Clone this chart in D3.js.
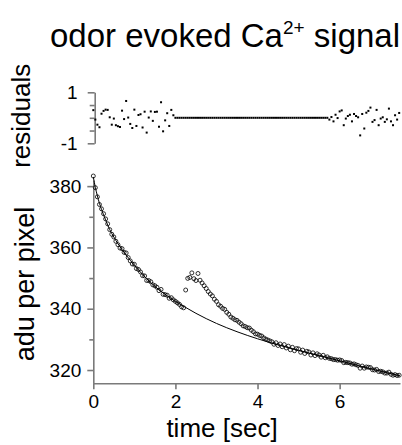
<!DOCTYPE html>
<html>
<head>
<meta charset="utf-8">
<script src="https://cdn.jsdelivr.net/npm/d3@7/dist/d3.min.js"></script>
<style>
  body { margin: 0; background: #fff; }
  text { font-family: "Liberation Sans", Arial, sans-serif; fill: #000; }
</style>
</head>
<body>
<svg id="chart" width="402" height="445"></svg>
<script>
// sampling interval of the imaging frames (sec)
const sampleInterval = 0.05;

// measured signal, adu per pixel, one value per frame
const signal = [
  383.3, 379.5, 376.5, 374.0, 372.6, 371.0, 369.3, 367.7, 365.8, 364.3,
  363.4, 362.0, 360.9, 359.8, 359.6, 358.4, 358.2, 356.7, 355.6, 354.6,
  354.5, 353.1, 352.8, 352.0, 350.8, 350.7, 349.2, 349.2, 348.8, 347.8,
  347.5, 347.0, 345.9, 346.3, 344.7, 344.6, 344.4, 343.4, 343.6, 342.9,
  342.4, 341.9, 341.4, 340.6, 340.3, 346.1, 349.9, 350.2, 351.7, 349.8,
  349.2, 351.5, 349.3, 348.4, 347.5, 346.6, 345.6, 344.8, 344.2, 343.1,
  342.4, 341.3, 340.8, 340.1, 339.8, 338.8, 338.2, 337.3, 336.9, 336.4,
  336.2, 335.6, 335.1, 334.4, 334.2, 333.8, 333.7, 333.0, 332.5, 331.8,
  331.7, 331.3, 331.1, 330.5, 330.1, 329.8, 329.5, 329.2, 328.4, 328.9,
  328.0, 328.5, 327.6, 328.3, 327.2, 327.8, 326.6, 327.4, 326.3, 327.0,
  326.9, 325.8, 326.5, 325.4, 326.1, 325.9, 324.9, 325.6, 324.7, 325.3,
  324.9, 324.2, 324.8, 324.0, 324.3, 323.8, 323.7, 323.4, 323.4, 323.2,
  323.3, 323.1, 322.4, 322.5, 322.4, 322.3, 321.9, 322.0, 321.7, 321.5,
  320.6, 321.3, 320.6, 321.0, 320.9, 320.8, 320.1, 320.0, 320.2, 319.5,
  319.6, 319.4, 319.0, 319.0, 319.3, 318.6, 318.3, 318.5, 318.2, 318.3
];

// residuals of the fit, zero where frames were excluded from the fit
const residuals = [
  0.30, -0.07, -0.27, -0.37, 0.16, 0.27, 0.32, 0.31, 0.02, -0.27,
  -0.03, -0.29, -0.33, -0.36, 0.28, -0.05, 0.66, 0.01, -0.24, -0.40,
  0.32, -0.32, 0.11, 0.14, -0.38, 0.24, -0.58, 0.01, 0.25, -0.12,
  0.23, 0.24, -0.35, 0.61, -0.53, -0.10, 0.18, -0.32, 0.31, 0.10,
  0, 0, 0, 0, 0, 0, 0, 0, 0, 0,
  0, 0, 0, 0, 0, 0, 0, 0, 0, 0,
  0, 0, 0, 0, 0, 0, 0, 0, 0, 0,
  0, 0, 0, 0, 0, 0, 0, 0, 0, 0,
  0, 0, 0, 0, 0, 0, 0, 0, 0, 0,
  0, 0, 0, 0, 0, 0, 0, 0, 0, 0,
  0, 0, 0, 0, 0, 0, 0, 0, 0, 0,
  0, 0, 0, 0, 0, -0.07, 0.03, -0.14, 0.12, -0.01,
  0.25, 0.29, -0.29, -0.03, 0.07, 0.12, -0.14, 0.15, 0.07, 0.02,
  -0.69, 0.15, -0.42, 0.20, 0.27, 0.40, -0.16, -0.09, 0.31, -0.29,
  -0.03, 0.02, -0.16, -0.06, 0.36, -0.14, -0.29, 0.10, -0.07, 0.19
];

// bleaching fit curve
const fitTimes  = [0, 0.05, 0.1, 0.15, 0.2, 0.3, 0.4, 0.5, 0.6, 0.7, 0.8, 1.0, 1.2, 1.4, 1.6,
                   1.8, 2.0, 2.2, 2.5, 3.0, 3.5, 4.0, 4.5, 5.0, 5.5, 6.0, 6.5, 7.0, 7.47];
const fitValues = [383.0, 379.6, 376.8, 374.4, 372.4, 369.0, 365.8, 363.4, 361.2, 359.3, 357.5, 354.2, 351.2, 348.5, 346.2,
                   344.2, 342.4, 340.8, 338.5, 335.2, 332.5, 330.2, 328.2, 326.4, 324.7, 323.0, 321.3, 319.6, 318.1];

const xTicks = [0, 2, 4, 6];
const yTicks = [320, 340, 360, 380];
const yMinorTicks = [330, 350, 370];
const resTicks = [-1, 1];
const resMinorTicks = [-0.5, 0, 0.5];

const axisColor = '#7a7a7a';

const svg = d3.select('#chart');

let x = d3.scaleLinear().domain([0, 7.47]).range([93.3, 400]);
let y = d3.scaleLinear().domain([315.7, 382]).range([383.2, 180]);
let yRes = d3.scaleLinear().domain([-1, 1]).range([143.3, 92.3]);

// plain hyphen for negatives, like the original figure
let intFormat = d => String(Math.round(d));

function styleAxis(g, width) {
  g.selectAll('path, line').attr('stroke', axisColor).attr('stroke-width', width);
  g.selectAll('text')
    .attr('font-size', 19)
    .attr('font-family', '"Liberation Sans", Arial, sans-serif')
    .attr('fill', '#000');
}

// title
let title = svg.append('text')
  .attr('x', 225)
  .attr('y', 47)
  .attr('text-anchor', 'middle')
  .attr('font-size', 33);
title.append('tspan').text('odor evoked Ca');
title.append('tspan').attr('font-size', 19).attr('dy', -13).text('2+');
title.append('tspan').attr('dy', 13).text(' signal');

// residuals panel
let resAxis = svg.append('g')
  .attr('transform', 'translate(94.7,0)')
  .call(d3.axisLeft(yRes).tickValues(resTicks).tickSize(7).tickSizeOuter(0).tickPadding(10)
    .tickFormat(intFormat));
styleAxis(resAxis, 1.6);

let resMinor = svg.append('g')
  .attr('transform', 'translate(94.7,0)')
  .call(d3.axisLeft(yRes).tickValues(resMinorTicks).tickSize(5).tickFormat(''));
resMinor.select('.domain').remove();
styleAxis(resMinor, 1.6);

svg.append('g')
  .selectAll('rect')
  .data(residuals)
  .join('rect')
    .attr('x', (d, i) => x(i * sampleInterval) - 1)
    .attr('y', d => yRes(d) - 1)
    .attr('width', 2)
    .attr('height', 2)
    .attr('fill', '#000');

svg.append('text')
  .attr('transform', 'translate(30,' + (yRes(0) - 2) + ') rotate(-90)')
  .attr('text-anchor', 'middle')
  .attr('font-size', 26)
  .text('residuals');

// main panel
let xAxis = svg.append('g')
  .attr('transform', 'translate(0,' + y.range()[0] + ')')
  .call(d3.axisBottom(x).tickValues(xTicks).tickSize(6).tickSizeOuter(0).tickPadding(5)
    .tickFormat(intFormat));
styleAxis(xAxis, 1.6);

let yAxis = svg.append('g')
  .attr('transform', 'translate(' + x.range()[0] + ',0)')
  .call(d3.axisLeft(y).tickValues(yTicks).tickSize(6).tickSizeOuter(0).tickPadding(6)
    .tickFormat(intFormat));
styleAxis(yAxis, 1.6);

let yMinor = svg.append('g')
  .attr('transform', 'translate(' + x.range()[0] + ',0)')
  .call(d3.axisLeft(y).tickValues(yMinorTicks).tickSize(4).tickFormat(''));
yMinor.select('.domain').remove();
styleAxis(yMinor, 1.6);

let fitLine = d3.line()
  .x((d, i) => x(fitTimes[i]))
  .y(d => y(d))
  .curve(d3.curveMonotoneX);

svg.append('path')
  .datum(fitValues)
  .attr('d', fitLine)
  .attr('fill', 'none')
  .attr('stroke', '#000')
  .attr('stroke-width', 1);

svg.append('g')
  .selectAll('circle')
  .data(signal)
  .join('circle')
    .attr('cx', (d, i) => x(i * sampleInterval))
    .attr('cy', d => y(d))
    .attr('r', 2)
    .attr('fill', 'none')
    .attr('stroke', '#000')
    .attr('stroke-width', 0.8);

svg.append('text')
  .attr('transform', 'translate(34,284) rotate(-90)')
  .attr('text-anchor', 'middle')
  .attr('font-size', 27)
  .text('adu per pixel');

svg.append('text')
  .attr('x', 222)
  .attr('y', 437)
  .attr('text-anchor', 'middle')
  .attr('font-size', 26)
  .text('time [sec]');
</script>
</body>
</html>
